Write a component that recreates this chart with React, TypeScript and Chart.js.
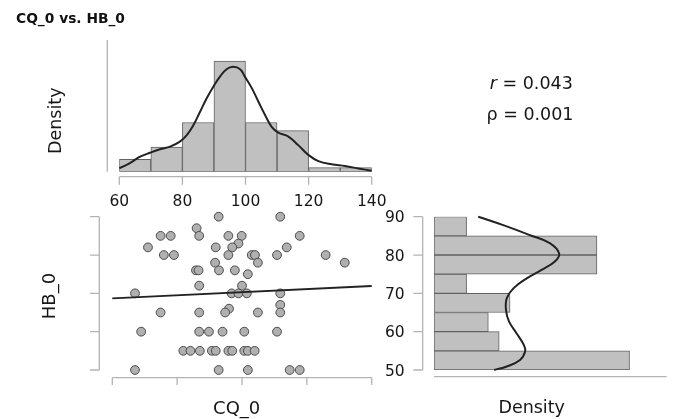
import React, { useEffect, useRef } from "react";
import { Chart, registerables } from "chart.js";

Chart.register(...registerables);

// ---------------- data ----------------
const titleText = "CQ_0 vs. HB_0";
const xName = "CQ_0";
const yName = "HB_0";
const densityName = "Density";
const pearsonR = "0.043";
const spearmanRho = "0.001";

const nObs = 72;

const cqBinStarts = [60, 70, 80, 90, 100, 110, 120, 130];
const cqBinWidth = 10;
const cqBinCounts = [3, 6, 12, 27, 12, 10, 1, 1];

const hbBinStarts = [50, 55, 60, 65, 70, 75, 80, 85];
const hbBinWidth = 5;
const hbBinCounts = [18, 6, 5, 7, 3, 15, 15, 3];

const cqTicks = [60, 80, 100, 120, 140];
const cqTickLabels = ["60", "80", "100", "120", "140"];
const hbTicks = [50, 60, 70, 80, 90];
const hbTickLabels = ["50", "60", "70", "80", "90"];

const cqDensityMax = 0.0446;
const hbDensityMax = 0.0595;

// kernel density of CQ_0
const cqKdeX = [60, 62.3, 64.4, 66.6, 69.7, 72.9, 76.1, 79.2, 81.4, 83.5, 85.6, 87.7, 89.8, 91.9, 94, 96.1, 98.3, 99.8, 102, 104.1, 106.2, 108.3, 110.4, 113.6, 116.7, 119.9, 123.1, 127.3, 131.5, 135.8, 140];
const cqKdeD = [0.0012, 0.0023, 0.0036, 0.0051, 0.0064, 0.0076, 0.0085, 0.0102, 0.0124, 0.0158, 0.0203, 0.0249, 0.0288, 0.0322, 0.0347, 0.0355, 0.0347, 0.0322, 0.0283, 0.0237, 0.0192, 0.0152, 0.0132, 0.0119, 0.009, 0.0057, 0.0036, 0.0025, 0.0019, 0.0011, 0.0003];

// kernel density of HB_0
const hbKdeY = [90, 87.8, 85.2, 83.1, 80.4, 78.3, 76.1, 73.9, 71.3, 68.7, 65.7, 62.6, 59.6, 56.5, 54.8, 52.6, 50.9, 50];
const hbKdeD = [0.0113, 0.0177, 0.0245, 0.0296, 0.032, 0.0309, 0.0275, 0.0237, 0.0203, 0.0186, 0.0184, 0.0192, 0.0211, 0.023, 0.0233, 0.022, 0.0186, 0.0154];

// scatter points
const scatterCQ = [
  92.8, 111.8,
  86,
  74.9, 78, 86.8, 95.8, 99.9, 117.8,
  98.9,
  71, 91.9, 97, 113.8,
  75.9, 79, 95.8, 103, 104, 110.8, 125.8,
  91.7, 104.9, 131.7,
  85.8, 86.6, 92.9, 97.8,
  101.8,
  86.8, 100,
  67, 96.8, 98.9, 101.5, 111.8,
  111.8,
  96,
  74.9, 86.8, 94.8, 104.9, 111.8,
  68.9, 86.8, 89.8, 94, 100.7, 110.8,
  81.9, 84.1, 87, 90.7, 91.9, 95.8, 97, 100.7, 101.8, 103.9,
  67, 92.8, 101.8, 114.7, 117.8,
];
const scatterHB = [
  90, 90,
  87,
  85, 85, 85, 85, 85, 85,
  83,
  82, 82, 82, 82,
  80, 80, 80, 80, 80, 80, 80,
  78, 78, 78,
  76, 76, 76, 76,
  75,
  72, 72,
  70, 70, 70, 70, 70,
  67,
  66,
  65, 65, 65, 65, 65,
  60, 60, 60, 60, 60, 60,
  55, 55, 55, 55, 55, 55, 55, 55, 55, 55,
  50, 50, 50, 50, 50,
];

// regression line end points
const regX = [60, 140];
const regY = [68.7, 71.9];

// ---------------- styles ----------------
const W = 675;
const H = 419;
const FONT = '"DejaVu Sans", "Liberation Sans", sans-serif';
const TEXT_COLOR = "#161616";
const AXIS_COLOR = "#b4b4b4";
const BAR_FILL = "#c0c0c0";
const BAR_EDGE = "#626262";
const POINT_FILL = "#b0b0b0";
const POINT_EDGE = "#4a4a4a";
const CURVE = "#222222";
const TICK_SIZE = 15.5;
const CAP = 0.729;

type AxisSpec = {
  scale: string;
  side: "bottom" | "left";
  gap: number;
  from: number;
  to: number;
  ticks: number[];
  labels?: string[];
  tickLen: number;
  labelDist?: number;
};

function axesPlugin(id: string, specs: AxisSpec[]) {
  return {
    id,
    afterDraw(chart: any) {
      const { ctx, chartArea } = chart;
      ctx.save();
      ctx.strokeStyle = AXIS_COLOR;
      ctx.lineWidth = 1.3;
      ctx.fillStyle = TEXT_COLOR;
      ctx.font = `${TICK_SIZE}px ${FONT}`;
      for (const s of specs) {
        const sc = chart.scales[s.scale];
        if (s.side === "bottom") {
          const y = chartArea.bottom + s.gap;
          ctx.beginPath();
          ctx.moveTo(sc.getPixelForValue(s.from), y);
          ctx.lineTo(sc.getPixelForValue(s.to), y);
          s.ticks.forEach((t) => {
            const x = sc.getPixelForValue(t);
            ctx.moveTo(x, y);
            ctx.lineTo(x, y + s.tickLen);
          });
          ctx.stroke();
          if (s.labels) {
            ctx.textAlign = "center";
            ctx.textBaseline = "alphabetic";
            s.labels.forEach((l, i) => {
              ctx.fillText(l, sc.getPixelForValue(s.ticks[i]), y + (s.labelDist || 0) + (CAP * TICK_SIZE) / 2);
            });
          }
        } else {
          const x = chartArea.left - s.gap;
          ctx.beginPath();
          ctx.moveTo(x, sc.getPixelForValue(s.from));
          ctx.lineTo(x, sc.getPixelForValue(s.to));
          s.ticks.forEach((t) => {
            const y = sc.getPixelForValue(t);
            ctx.moveTo(x, y);
            ctx.lineTo(x - s.tickLen, y);
          });
          ctx.stroke();
          if (s.labels) {
            ctx.textAlign = "right";
            ctx.textBaseline = "alphabetic";
            s.labels.forEach((l, i) => {
              ctx.fillText(l, x - (s.labelDist || 0), sc.getPixelForValue(s.ticks[i]) + (CAP * TICK_SIZE) / 2);
            });
          }
        }
      }
      ctx.restore();
    },
  };
}

const commonOptions = {
  animation: false as const,
  responsive: false,
  devicePixelRatio: 1,
  events: [] as any[],
};

function hiddenPlugins() {
  return { legend: { display: false }, tooltip: { enabled: false }, title: { display: false } };
}

function topConfig(): any {
  const bars = cqBinStarts.map((s, i) => ({ x: s + cqBinWidth / 2, y: cqBinCounts[i] / (nObs * cqBinWidth) }));
  const kde = cqKdeX.map((x, i) => ({ x, y: cqKdeD[i] }));
  return {
    type: "bar",
    data: {
      datasets: [
        { type: "line", data: kde, borderColor: CURVE, borderWidth: 2, pointRadius: 0, tension: 0.4, fill: false, clip: false, order: 0 },
        { type: "bar", data: bars, backgroundColor: BAR_FILL, borderColor: BAR_EDGE, borderWidth: 1, borderSkipped: false, barPercentage: 1, categoryPercentage: 1, order: 1 },
      ],
    },
    options: {
      ...commonOptions,
      layout: { padding: { left: 119.3, right: W - 371.7, top: 40, bottom: H - 171.7 } },
      scales: {
        x: { type: "linear", min: 60, max: 140, offset: false, display: false, ticks: { stepSize: cqBinWidth } },
        y: { type: "linear", min: 0, max: cqDensityMax, display: false },
      },
      plugins: hiddenPlugins(),
    },
    plugins: [
      axesPlugin("topAxes", [
        { scale: "x", side: "bottom", gap: 5, from: 60, to: 140, ticks: cqTicks, labels: cqTickLabels, tickLen: 8, labelDist: 24 },
        { scale: "y", side: "left", gap: 12, from: 0, to: cqDensityMax, ticks: [], tickLen: 0 },
      ]),
    ],
  };
}

function scatterConfig(): any {
  const pts = scatterCQ.map((x, i) => ({ x, y: scatterHB[i] }));
  const reg = regX.map((x, i) => ({ x, y: regY[i] }));
  return {
    type: "scatter",
    data: {
      datasets: [
        { type: "line", data: reg, borderColor: CURVE, borderWidth: 1.9, pointRadius: 0, fill: false, clip: false, order: 0 },
        { type: "scatter", data: pts, pointRadius: 4.4, backgroundColor: POINT_FILL, borderColor: POINT_EDGE, borderWidth: 1, clip: false, order: 1 },
      ],
    },
    options: {
      ...commonOptions,
      layout: { padding: { left: 112.3, right: W - 371.7, top: 216.7, bottom: H - 370 } },
      scales: {
        x: { type: "linear", min: 60, max: 140, display: false },
        y: { type: "linear", min: 50, max: 90, display: false },
      },
      plugins: hiddenPlugins(),
    },
    plugins: [
      axesPlugin("scatterAxes", [
        { scale: "x", side: "bottom", gap: 7.7, from: 60, to: 140, ticks: cqTicks, tickLen: 7.3 },
        { scale: "y", side: "left", gap: 13, from: 50, to: 90, ticks: hbTicks, tickLen: 9.3 },
      ]),
    ],
  };
}

function rightConfig(): any {
  const bars = hbBinStarts.map((s, i) => ({ y: s + hbBinWidth / 2, x: hbBinCounts[i] / (nObs * hbBinWidth) }));
  const kde = hbKdeY.map((y, i) => ({ x: hbKdeD[i], y }));
  return {
    type: "bar",
    data: {
      datasets: [
        { type: "line", indexAxis: "y", data: kde, borderColor: CURVE, borderWidth: 2, pointRadius: 0, tension: 0.4, fill: false, clip: false, order: 0 },
        { type: "bar", indexAxis: "y", data: bars, backgroundColor: BAR_FILL, borderColor: BAR_EDGE, borderWidth: 1, borderSkipped: false, barPercentage: 1, categoryPercentage: 1, order: 1 },
      ],
    },
    options: {
      ...commonOptions,
      indexAxis: "y",
      layout: { padding: { left: 434, right: W - 666.7, top: 216.7, bottom: H - 370 } },
      scales: {
        x: { type: "linear", min: 0, max: hbDensityMax, display: false },
        y: { type: "linear", min: 50, max: 90, offset: false, display: false, ticks: { stepSize: hbBinWidth } },
      },
      plugins: hiddenPlugins(),
    },
    plugins: [
      axesPlugin("rightAxes", [
        { scale: "y", side: "left", gap: 11.3, from: 50, to: 90, ticks: hbTicks, labels: hbTickLabels, tickLen: 9.4, labelDist: 18 },
        { scale: "x", side: "bottom", gap: 6.7, from: 0, to: hbDensityMax, ticks: [], tickLen: 0 },
      ]),
    ],
  };
}

function Label(props: { text: React.ReactNode; cx: number; cy: number; size: number; rotate?: boolean }) {
  const { text, cx, cy, size, rotate } = props;
  return (
    <div
      style={{
        position: "absolute",
        left: cx - 150,
        top: cy - size / 2,
        width: 300,
        height: size,
        lineHeight: `${size}px`,
        fontSize: size,
        fontFamily: FONT,
        color: TEXT_COLOR,
        textAlign: "center",
        whiteSpace: "nowrap",
        transform: rotate ? "rotate(-90deg)" : undefined,
        transformOrigin: "center",
      }}
    >
      {text}
    </div>
  );
}

export default function App() {
  const topRef = useRef<HTMLCanvasElement>(null);
  const scatterRef = useRef<HTMLCanvasElement>(null);
  const rightRef = useRef<HTMLCanvasElement>(null);

  useEffect(() => {
    const charts = [
      new Chart(topRef.current as HTMLCanvasElement, topConfig()),
      new Chart(scatterRef.current as HTMLCanvasElement, scatterConfig()),
      new Chart(rightRef.current as HTMLCanvasElement, rightConfig()),
    ];
    return () => charts.forEach((c) => c.destroy());
  }, []);

  const canvasStyle: React.CSSProperties = { position: "absolute", left: 0, top: 0, width: W, height: H };

  return (
    <div style={{ position: "fixed", left: 0, top: 0, width: W, height: H, background: "#ffffff", overflow: "hidden" }}>
      <canvas ref={topRef} width={W} height={H} style={canvasStyle} />
      <canvas ref={scatterRef} width={W} height={H} style={canvasStyle} />
      <canvas ref={rightRef} width={W} height={H} style={canvasStyle} />

      <div
        style={{
          position: "absolute",
          left: 16,
          top: 11,
          height: 14,
          lineHeight: "14px",
          fontSize: 13.8,
          fontWeight: 700,
          fontFamily: '"DejaVu Sans", "Open Sans", sans-serif',
          color: "#111111",
          whiteSpace: "nowrap",
        }}
      >
        {titleText}
      </div>

      <Label text={densityName} cx={55.5} cy={120.3} size={17.5} rotate />
      <Label text={yName} cx={49} cy={296} size={18} rotate />
      <Label text={xName} cx={236.7} cy={408.3} size={18} />
      <Label text={densityName} cx={531.7} cy={407.5} size={17.5} />
      <Label text={<span><i>r</i> = {pearsonR}</span>} cx={531.3} cy={83.7} size={17.5} />
      <Label text={<span>ρ = {spearmanRho}</span>} cx={530} cy={115.2} size={17.5} />
    </div>
  );
}
